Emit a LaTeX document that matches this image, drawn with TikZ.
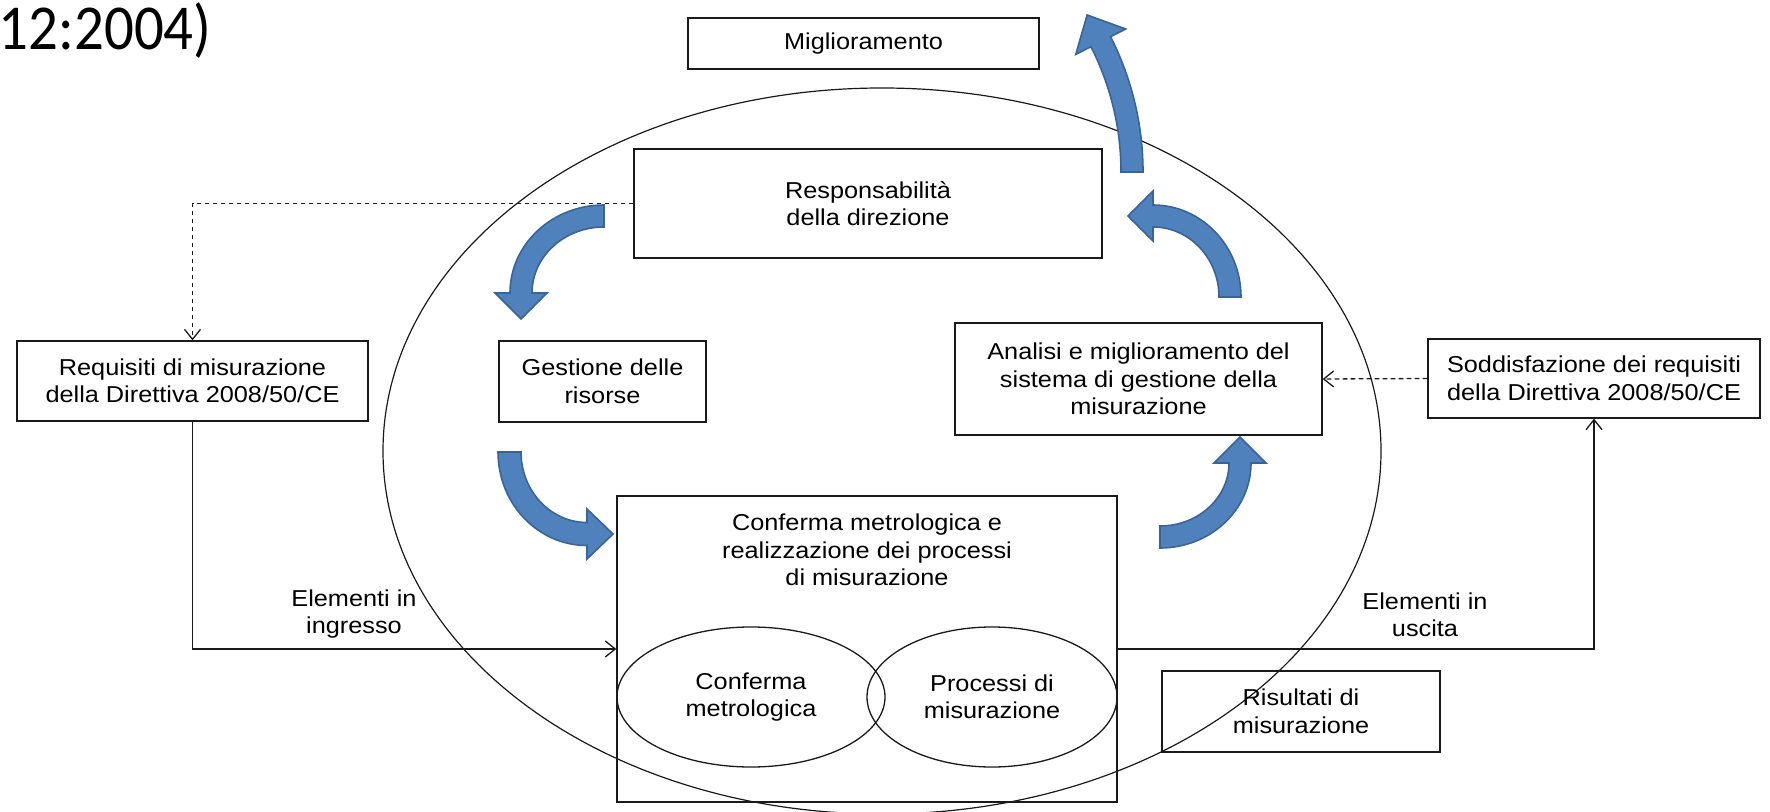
\documentclass[tikz,border=0pt]{standalone}
\usepackage{fontspec}
\setmainfont{Liberation Sans}[FakeStretch=1.1]
\newfontfamily\titlefont{Carlito}[FakeStretch=0.92]
\usetikzlibrary{arrows.meta,shapes.geometric,calc}
\definecolor{arrowblue}{HTML}{4F81BD}
\definecolor{arrowedge}{HTML}{3B6496}
\definecolor{ink}{HTML}{1A1A1A}
\newcommand{\boxfont}{\fontsize{11.5pt}{13.75pt}\selectfont}
\tikzset{
  box/.style={draw=ink, line width=0.65pt, inner sep=0pt, align=center, font=\boxfont},
  ell/.style={draw=ink, ellipse, line width=0.65pt, inner sep=0pt, align=center, font=\boxfont},
  txt/.style={inner sep=2pt, align=center, font=\boxfont},
  conn/.style={draw=ink, line width=0.65pt},
  dashconn/.style={conn, dash pattern=on 2.4pt off 1.6pt},
  tip/.style={-{Straight Barb[length=5pt,width=8pt]}},
  bluearrow/.style={fill=arrowblue, draw=arrowedge, line width=0.8pt, line join=miter},
}
% #1 cx, #2 cy, #3 rx, #4 ry, #5 start angle, #6 end angle, #7 half thickness, #8 head half width, #9 head length
\newcommand{\curvarrow}[9]{%
  \pgfmathsetmacro\qqax{#3+#7}\pgfmathsetmacro\qqay{#4+#7}%
  \pgfmathsetmacro\qqbx{#3-#7}\pgfmathsetmacro\qqby{#4-#7}%
  \pgfmathsetmacro\qqhx{#3+#8}\pgfmathsetmacro\qqhy{#4+#8}%
  \pgfmathsetmacro\qqix{#3-#8}\pgfmathsetmacro\qqiy{#4-#8}%
  \pgfmathsetmacro\qqtx{#3*cos(#6)+#9*cos(#6-90)}%
  \pgfmathsetmacro\qqty{#4*sin(#6)+#9*sin(#6-90)}%
  \begin{scope}[shift={(#1,#2)}]
    \filldraw[bluearrow] (#5:{\qqbx} and {\qqby}) -- (#5:{\qqax} and {\qqay})
      arc[start angle=#5, end angle=#6, x radius=\qqax, y radius=\qqay]
      -- (#6:{\qqhx} and {\qqhy}) -- (\qqtx,\qqty) -- (#6:{\qqix} and {\qqiy})
      -- (#6:{\qqbx} and {\qqby})
      arc[start angle=#6, end angle=#5, x radius=\qqbx, y radius=\qqby] -- cycle;
  \end{scope}}
\begin{document}
\begin{tikzpicture}[x=0.5pt, y=-0.5pt]
\useasboundingbox (0,0) rectangle (1770,812);

% title fragment
\node[anchor=base east, inner sep=0pt, font=\titlefont\fontsize{32pt}{36pt}\selectfont] (title) at (212,50) {12:2004)};

% big ellipse
\draw[ink, line width=0.6pt] (882,451) ellipse [x radius=499, y radius=363];

% labels on connectors
\node[txt] (ein) at (354,614) {Elementi in\\ingresso};
\node[txt, fill=white] (eout) at (1425,615) {Elementi in\\uscita};

% boxes
\node[box, minimum width=175.5pt, minimum height=25.5pt] (mig) at (863.5,43.5) {Miglioramento};
\node[box, minimum width=234pt, minimum height=54.5pt] (resp) at (868,203.5) {Responsabilità\\della direzione};
\node[box, minimum width=175.5pt, minimum height=40pt] (req) at (192.5,381) {Requisiti di misurazione\\della Direttiva 2008/50/CE};
\node[box, minimum width=103.5pt, minimum height=40.5pt] (gest) at (602.5,381.5) {Gestione delle\\risorse};
\node[box, minimum width=183.5pt, minimum height=56pt] (anal) at (1138.5,379) {Analisi e miglioramento del\\sistema di gestione della\\misurazione};
\node[box, minimum width=166pt, minimum height=39.5pt] (sodd) at (1594,378.5) {Soddisfazione dei requisiti\\della Direttiva 2008/50/CE};
\node[box, minimum width=250pt, minimum height=153pt] (conf) at (867,649) {};
\node[txt] (conft) at (867,550) {Conferma metrologica e\\realizzazione dei processi\\di misurazione};
\node[ell, minimum width=134pt, minimum height=70pt] (cm) at (751,697) {Conferma\\metrologica};
\node[ell, minimum width=125pt, minimum height=70pt] (pm) at (992,697) {Processi di\\misurazione};
\node[box, minimum width=139pt, minimum height=40.5pt] (ris) at (1301,711.5) {Risultati di\\misurazione};

% curved blue arrows
\curvarrow{845}{172}{287}{287}{0}{-27}{11}{28}{30}
\curvarrow{1153}{297}{77}{81}{0}{-90}{11}{25}{25}
\curvarrow{604}{293}{83}{77}{-90}{-180}{11}{26}{26}
\curvarrow{587}{452}{77.5}{82}{180}{90}{11.5}{25}{26}
\curvarrow{1160}{463}{80}{74}{90}{0}{11}{26}{26}

% connectors
\draw[dashconn, tip] (resp.west) -| (req.north);
\draw[dashconn, tip] (sodd.west) -- (anal.east);
\draw[conn, tip] (req.south) |- (conf.west);
\draw[conn, tip] (conf.east) -| (sodd.south);
\end{tikzpicture}
\end{document}
